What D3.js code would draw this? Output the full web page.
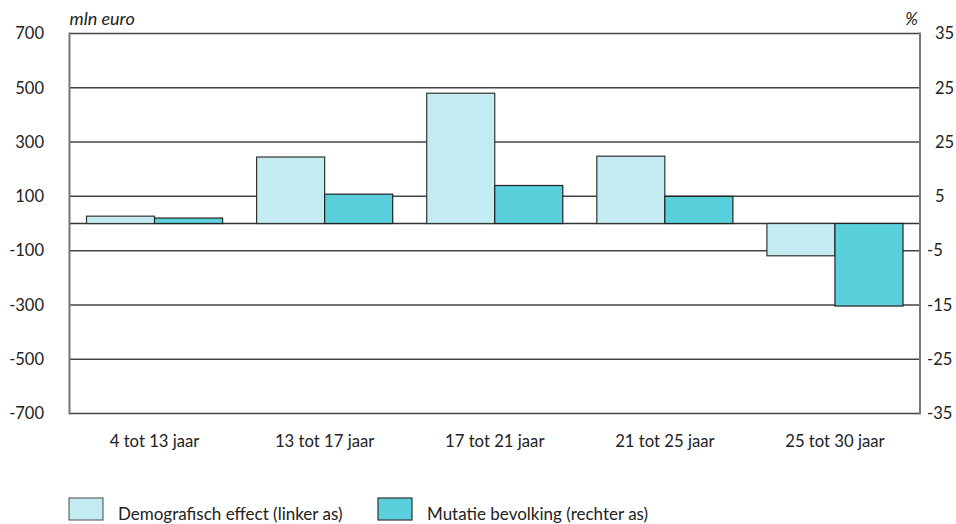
<!DOCTYPE html>
<html>
<head>
<meta charset="utf-8">
<script src="https://cdn.jsdelivr.net/npm/d3@7"></script>
<style>
  html, body { margin: 0; padding: 0; background: #fff; }
  svg text { font-family: Lato, "Noto Sans", sans-serif; fill: #222; }
</style>
</head>
<body>
<svg id="chart" width="956" height="524"></svg>
<script>
const categories = ["4 tot 13 jaar", "13 tot 17 jaar", "17 tot 21 jaar", "21 tot 25 jaar", "25 tot 30 jaar"];
const demografischEffect = [27, 245, 480, 248, -119];   // mln euro, left axis
const mutatieBevolking = [1.0, 5.4, 7.0, 5.0, -15.2];   // %, right axis
const leftTicks = [700, 500, 300, 100, -100, -300, -500, -700];
const rightTicks = [35, 25, 15, 5, -5, -15, -25, -35];
const rightTickLabels = ["35", "25", "25", "5", "-5", "-15", "-25", "-35"];
const seriesNames = ["Demografisch effect (linker as)", "Mutatie bevolking (rechter as)"];
const colors = ["#c2ecf1", "#5bd0dd"];

const svg = d3.select("#chart");
const pLeft = 69.5, pRight = 920, pTop = 33.5, pBottom = 413.5;

const yL = d3.scaleLinear().domain([-700, 700]).range([pBottom, pTop]);
const yR = d3.scaleLinear().domain([-35, 35]).range([pBottom, pTop]);
const x = d3.scaleBand().domain(categories).range([pLeft, pRight]).paddingInner(0.2).paddingOuter(0.1);
const xs = d3.scaleBand().domain([0, 1]).range([0, x.bandwidth()]);

// gridlines
svg.append("g").selectAll("line").data(leftTicks.concat([0])).join("line")
  .attr("x1", pLeft).attr("x2", pRight)
  .attr("y1", d => yL(d)).attr("y2", d => yL(d))
  .attr("stroke", d => d === 0 ? "#333" : "#444").attr("stroke-width", 1.5);

// bars
const g = svg.append("g");
categories.forEach((c, i) => {
  const v1 = demografischEffect[i];
  g.append("rect")
    .attr("x", x(c) + xs(0)).attr("width", xs.bandwidth())
    .attr("y", Math.min(yL(v1), yL(0))).attr("height", Math.abs(yL(v1) - yL(0)))
    .attr("fill", colors[0]).attr("stroke", "#333").attr("stroke-width", 1.2);
  const v2 = mutatieBevolking[i];
  g.append("rect")
    .attr("x", x(c) + xs(1)).attr("width", xs.bandwidth())
    .attr("y", Math.min(yR(v2), yR(0))).attr("height", Math.abs(yR(v2) - yR(0)))
    .attr("fill", colors[1]).attr("stroke", "#222").attr("stroke-width", 1.2);
});

// axis lines
svg.append("line").attr("x1", pLeft).attr("x2", pLeft).attr("y1", pTop - 1).attr("y2", pBottom + 1)
  .attr("stroke", "#777").attr("stroke-width", 2);
svg.append("line").attr("x1", pRight).attr("x2", pRight).attr("y1", pTop - 1).attr("y2", pBottom + 1)
  .attr("stroke", "#777").attr("stroke-width", 2);

// left axis labels
const axL = d3.axisLeft(yL).tickValues(leftTicks).tickSize(0).tickPadding(0).tickFormat(d => String(d));
const gL = svg.append("g").attr("transform", `translate(44,0)`).call(axL);
gL.select(".domain").remove();
gL.selectAll("text").style("font-family", "Lato, sans-serif").style("font-size", "16.5px").attr("fill", "#222");

// right axis labels
const axR = d3.axisRight(yR).tickValues(rightTicks).tickSize(0).tickPadding(0)
  .tickFormat((d, i) => rightTickLabels[i]);
const gR = svg.append("g").attr("transform", `translate(927,0)`).call(axR);
gR.select(".domain").remove();
gR.selectAll("text").style("font-family", "Lato, sans-serif").style("font-size", "16.5px").attr("fill", "#222")
  .attr("x", (d, i) => rightTickLabels[i].startsWith("-") ? 0 : 8);

// unit labels
svg.append("text").attr("x", pLeft).attr("y", 25).text("mln euro")
  .style("font-size", "18px").style("font-style", "italic");
svg.append("text").attr("x", pRight - 2).attr("y", 25).attr("text-anchor", "end").text("%")
  .style("font-size", "17px").style("font-style", "italic");

// x axis labels
const axX = d3.axisBottom(x).tickSize(0).tickPadding(0);
const gX = svg.append("g").attr("transform", `translate(0,${447})`).call(axX);
gX.select(".domain").remove();
gX.selectAll("text").attr("dy", 0).style("font-family", "Lato, sans-serif").style("font-size", "16.7px").attr("fill", "#222");

// legend
const legendX = [69, 378];
seriesNames.forEach((n, i) => {
  svg.append("rect").attr("x", legendX[i]).attr("y", 498).attr("width", 34).attr("height", 22)
    .attr("fill", colors[i]).attr("stroke", i === 0 ? "#666" : "#333").attr("stroke-width", 1.2);
  svg.append("text").attr("x", legendX[i] + 49).attr("y", 520).text(n).style("font-size", "17px");
});
</script>
</body>
</html>
